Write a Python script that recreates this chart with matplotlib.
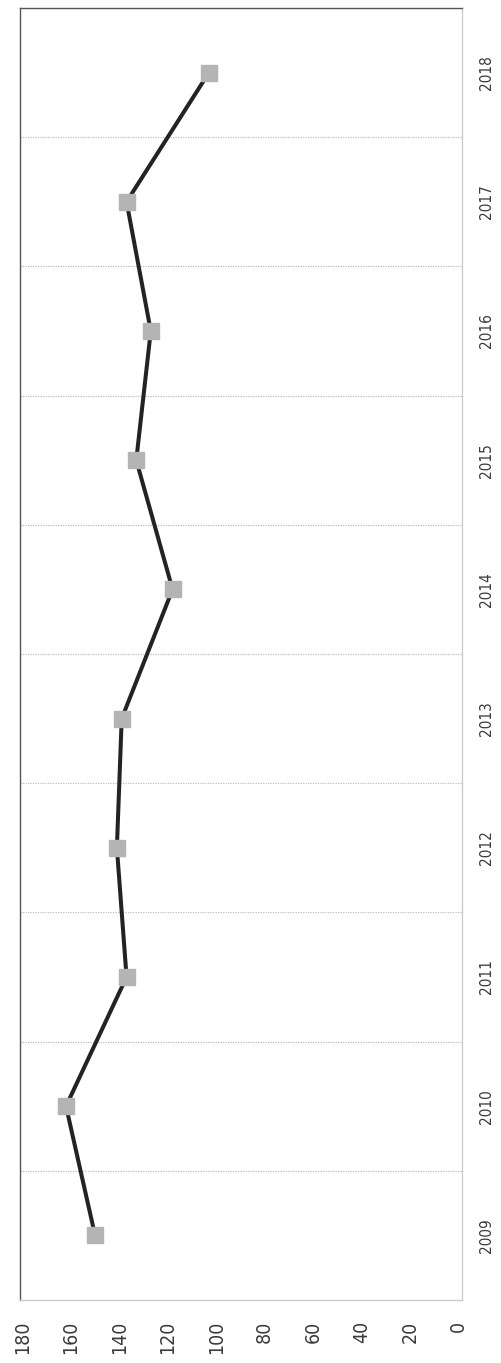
import matplotlib.pyplot as plt
from matplotlib.ticker import FixedLocator
from matplotlib import font_manager

# data (chart is drawn rotated: years run bottom -> top, values run right -> left)
years = ["2009", "2010", "2011", "2012", "2013", "2014", "2015", "2016", "2017", "2018"]
values = [150, 162, 137, 141, 139, 118, 133, 127, 137, 103]
value_ticks = [0, 20, 40, 60, 80, 100, 120, 140, 160, 180]

W, H = 501, 1363
fig = plt.figure(figsize=(W / 100, H / 100), dpi=100)
ax = fig.add_axes([20 / W, 1 - 1300 / H, 442 / W, 1292 / H])

pos = list(range(len(years)))
ax.plot(values, pos, color="#232323", linewidth=2.9, zorder=3,
        marker="s", markersize=11.5, markerfacecolor="#b4b4b4",
        markeredgecolor="#b4b4b4")

ax.set_xlim(181, -1.5)
ax.set_ylim(-0.5, len(years) - 0.5)

val_font = font_manager.FontProperties(family="DejaVu Sans", stretch="condensed", size=14)
year_font = font_manager.FontProperties(family="DejaVu Sans", stretch="condensed", size=11)

# value axis along the bottom, rotated labels
ax.set_xticks(value_ticks)
ax.set_xticklabels([str(v) for v in value_ticks], rotation=90,
                   fontproperties=val_font, color="#3a3a3a")
ax.tick_params(axis="x", length=0, pad=15)

# category axis on the right
ax.yaxis.tick_right()
ax.set_yticks(pos)
ax.set_yticklabels(years, rotation=90, va="center",
                   fontproperties=year_font, color="#3a3a3a")
ax.tick_params(axis="y", length=0, pad=12)

# gridlines at category boundaries
ax.yaxis.set_minor_locator(FixedLocator([p + 0.5 for p in pos[:-1]]))
ax.tick_params(axis="y", which="minor", length=0)
ax.grid(True, axis="y", which="minor", color="#bdbdbd", linewidth=0.9,
        linestyle=(0, (1, 1)))

ax.spines["left"].set_color("#555555")
ax.spines["top"].set_color("#555555")
ax.spines["right"].set_color("#cccccc")
ax.spines["bottom"].set_color("#cccccc")
for s in ax.spines.values():
    s.set_linewidth(1.0)

fig.savefig("out.png", dpi=100)
